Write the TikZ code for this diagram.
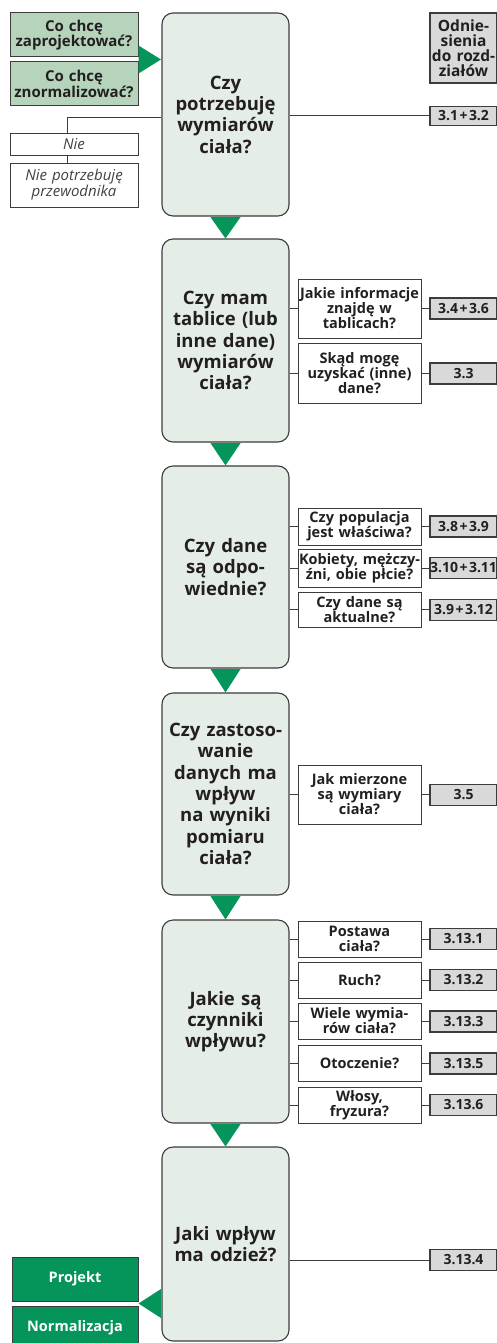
\documentclass[tikz,border=0pt]{standalone}
\usepackage{fontspec}
\setmainfont{Open Sans}
\usetikzlibrary{positioning}

\definecolor{qfill}{HTML}{E4EDE6}
\definecolor{palegreen}{HTML}{B6D4BB}
\definecolor{deepgreen}{HTML}{05955A}
\definecolor{refgray}{HTML}{D9D9D9}
\definecolor{edgegray}{HTML}{3C3C3C}
\definecolor{ink}{HTML}{231F20}

\newcommand{\plussign}{\hspace{1.5pt}+\hspace{1.5pt}}

\begin{document}
\begin{tikzpicture}[x=1pt, y=-1pt,
        question/.style={draw=edgegray, line width=1.1pt, fill=qfill, rounded corners=11pt,
            text width=125pt, inner xsep=1pt, align=center, text=ink,
            font=\fontsize{18.5}{21.3}\selectfont\bfseries},
        detail/.style={draw=edgegray, line width=1pt, fill=white, text width=123pt,
            inner sep=0pt, align=center, text=ink,
            font=\fontsize{14.5}{15}\selectfont\bfseries},
        refbox/.style={draw=edgegray, line width=1.1pt, fill=refgray, text width=67pt,
            minimum height=21pt, inner sep=0pt, align=center, text=ink,
            font=\fontsize{14}{15}\selectfont\bfseries},
        startbox/.style={draw=edgegray, line width=1pt, fill=palegreen, text width=128pt,
            minimum height=44pt, inner sep=0pt, align=center, text=ink,
            font=\fontsize{15}{15.5}\selectfont\bfseries},
        endbox/.style={draw=edgegray, line width=1pt, fill=deepgreen, text width=126pt,
            minimum height=44pt, inner sep=0pt, align=center, text=white,
            font=\fontsize{14.5}{15.5}\selectfont\bfseries},
        nobox/.style={draw=edgegray, line width=0.8pt, fill=white, text width=128pt,
            inner sep=0pt, align=center, text=ink!85,
            font=\fontsize{15}{16}\selectfont\itshape},
        link/.style={draw=edgegray, line width=1pt}]
    \useasboundingbox (0,0) rectangle (496,1343);

    % main questions
    \node[question, minimum height=203pt] (q1) at (225.5,114.5) {Czy\\potrzebuję\\wymiarów\\ciała?};
    \node[question, minimum height=203pt] (q2) at (225.5,340.5) {Czy mam\\tablice (lub\\inne dane)\\wymiarów\\ciała?};
    \node[question, minimum height=202pt] (q3) at (225.5,567) {Czy dane\\są odpo-\\wiednie?};
    \node[question, minimum height=202pt] (q4) at (225.5,794) {Czy zastoso-\\wanie\\danych ma\\wpływ\\na wyniki\\pomiaru\\ciała?};
    \node[question, minimum height=203pt] (q5) at (225.5,1021.5) {Jakie są\\czynniki\\wpływu?};
    \node[question, minimum height=194pt] (q6) at (225.5,1244) {Jaki wpływ\\ma odzież?};

    % start and end
    \node[startbox] (design) at (74,35) {Co chcę\\zaprojektować?};
    \node[startbox] (standard) at (74,84) {Co chcę\\znormalizować?};
    \node[nobox, minimum height=22pt] (no) at (74,144) {Nie};
    \node[nobox, minimum height=44pt] (noguide) at (74,185) {Nie potrzebuję\\przewodnika};
    \node[endbox] (project) at (75,1279) {Projekt};
    \node[endbox] (norm) at (75,1328) {Normalizacja};

    % detail questions
    \node[detail, minimum height=59pt] (s21) at (359.5,308.5) {Jakie informacje\\znajdę w\\tablicach?};
    \node[detail, minimum height=60pt] (s22) at (359.5,373) {Skąd mogę\\uzyskać (inne)\\dane?};
    \node[detail, minimum height=37pt] (s31) at (359.5,526.5) {Czy populacja\\jest właściwa?};
    \node[detail, minimum height=38pt] (s32) at (359.5,568) {Kobiety, mężczy-\\źni, obie płcie?};
    \node[detail, minimum height=35pt] (s33) at (359.5,609.5) {Czy dane są\\aktualne?};
    \node[detail, minimum height=59pt] (s41) at (359.5,794.5) {Jak mierzone\\są wymiary\\ciała?};
    \node[detail, minimum height=36pt] (s51) at (359.5,939) {Postawa\\ciała?};
    \node[detail, minimum height=36pt] (s52) at (359.5,980) {Ruch?};
    \node[detail, minimum height=36pt] (s53) at (359.5,1021) {Wiele wymia-\\rów ciała?};
    \node[detail, minimum height=36pt] (s54) at (359.5,1063) {Otoczenie?};
    \node[detail, minimum height=36pt] (s55) at (359.5,1105) {Włosy,\\fryzura?};

    % chapter references
    \node[refbox, minimum height=70pt, font=\fontsize{15.5}{15}\selectfont\bfseries] (refhead) at (463.5,48) {Odnie-\\sienia\\do rozd-\\ziałów};
    \node[refbox, minimum height=19pt] (r1) at (463.5,116) {3.1\plussign 3.2};
    \node[refbox] (r21) at (463.5,308.5) {3.4\plussign 3.6};
    \node[refbox] (r22) at (463.5,373.5) {3.3};
    \node[refbox] (r31) at (463.5,526.5) {3.8\plussign 3.9};
    \node[refbox] (r32) at (463.5,568) {3.10\plussign 3.11};
    \node[refbox] (r33) at (463.5,610) {3.9\plussign 3.12};
    \node[refbox] (r41) at (463.5,795) {3.5};
    \node[refbox] (r51) at (463.5,939) {3.13.1};
    \node[refbox] (r52) at (463.5,980) {3.13.2};
    \node[refbox] (r53) at (463.5,1021.5) {3.13.3};
    \node[refbox] (r54) at (463.5,1063.5) {3.13.5};
    \node[refbox] (r55) at (463.5,1105) {3.13.6};
    \node[refbox] (r61) at (463.5,1260) {3.13.4};

    % connectors
    \draw[link] (q1.east |- r1) -- (r1.west);
    \draw[link] (q6.east |- r61) -- (r61.west);
    \draw[link] ([yshift=-3.5pt]q1.west) -| ([xshift=-7pt]no.north);
    \draw[link] ([xshift=-7pt]no.south) -- ([xshift=-7pt]noguide.north);
    \foreach \q/\s/\r in {q2/s21/r21, q2/s22/r22, q3/s31/r31, q3/s32/r32, q3/s33/r33,
            q4/s41/r41, q5/s51/r51, q5/s52/r52, q5/s53/r53, q5/s54/r54, q5/s55/r55}
        \draw[link] (\q.east |- \s) -- (\s.west) (\s.east) -- (\r.west |- \s.east);

    % green arrows
    \foreach \a/\b in {q1/q2, q2/q3, q3/q4, q4/q5, q5/q6}
        \fill[deepgreen] ([xshift=-15pt, yshift=-0.6pt]\a.south) -- ([xshift=15pt, yshift=-0.6pt]\a.south) -- (\b.north) -- cycle;
    \path (design.south east) -- (standard.north east) coordinate[pos=0.5] (gapin);
    \fill[deepgreen] ([yshift=14pt]gapin) -- ([yshift=-14pt]gapin) -- ([xshift=-0.5pt]q1.west |- gapin) -- cycle;
    \path (project.south east) -- (norm.north east) coordinate[pos=0.5] (gapout);
    \coordinate (outbase) at (q6.west |- gapout);
    \fill[deepgreen] ([yshift=14.5pt, xshift=-0.5pt]outbase) -- ([yshift=-14.5pt, xshift=-0.5pt]outbase) -- (gapout) -- cycle;
\end{tikzpicture}
\end{document}
